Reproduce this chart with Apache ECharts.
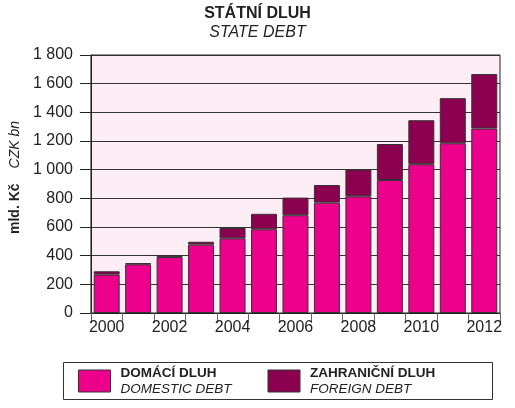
<!DOCTYPE html>
<html>
<head>
<meta charset="utf-8">
<script src="https://cdn.jsdelivr.net/npm/echarts@6/dist/echarts.min.js"></script>
<style>
  html, body { margin: 0; padding: 0; background: #fff; }
  #main { width: 515px; height: 408px; }
</style>
</head>
<body>
<div id="main"></div>
<script>
// data (mld. Kč)
var years = ["2000", "2001", "2002", "2003", "2004", "2005", "2006", "2007", "2008", "2009", "2010", "2011", "2012"];
var domestic = [268, 340, 390, 477, 521, 584, 682, 770, 814, 928, 1038, 1184, 1287];
var foreign = [23, 8, 13, 20, 72, 108, 123, 123, 187, 251, 307, 315, 380];
var seriesNames = ["DOMÁCÍ DLUH", "ZAHRANIČNÍ DLUH"];
var seriesSub = ["DOMESTIC DEBT", "FOREIGN DEBT"];

var FONT = "Liberation Sans";
var chart = echarts.init(document.getElementById("main"));

var option = {
  animation: false,
  textStyle: { fontFamily: FONT, color: "#222" },
  title: {
    text: "STÁTNÍ DLUH",
    subtext: "STATE DEBT",
    left: "center",
    top: 6,
    itemGap: 3,
    padding: 0,
    textStyle: { fontFamily: FONT, fontSize: 16, fontWeight: "bold", color: "#222" },
    subtextStyle: { fontFamily: FONT, fontSize: 16, fontStyle: "italic", color: "#222" }
  },
  grid: {
    left: 89,
    right: 15,
    top: 55,
    bottom: 95,
    show: true,
    backgroundColor: "#fdeef5",
    borderColor: "#222",
    borderWidth: 1
  },
  legend: {
    left: 78,
    top: 366,
    icon: "rect",
    itemWidth: 32,
    itemHeight: 22,
    itemGap: 17,
    padding: 0,
    data: seriesNames,
    itemStyle: { borderColor: "#333", borderWidth: 1 },
    formatter: function (name) {
      var i = seriesNames.indexOf(name);
      return "{b|" + name + "}\n{i|" + seriesSub[i] + "}";
    },
    textStyle: {
      rich: {
        b: { fontFamily: FONT, fontSize: 13.5, fontWeight: "bold", color: "#222", lineHeight: 16, width: 130, padding: [0, 0, 0, 5] },
        i: { fontFamily: FONT, fontSize: 13.5, fontStyle: "italic", color: "#222", lineHeight: 16, width: 130, padding: [0, 0, 0, 5] }
      }
    }
  },
  graphic: [{
    type: "rect",
    shape: { x: 63.5, y: 362.5, width: 429, height: 37 },
    style: { fill: "none", stroke: "#333", lineWidth: 1 },
    silent: true
  }],
  xAxis: {
    type: "category",
    data: years,
    axisLine: { lineStyle: { color: "#222", width: 1 } },
    axisTick: { show: true, interval: 0, alignWithLabel: false, length: 10, lineStyle: { color: "#666" } },
    axisLabel: { interval: 1, margin: 7, fontFamily: FONT, fontSize: 16, color: "#222" }
  },
  yAxis: {
    type: "value",
    min: 0,
    max: 1800,
    interval: 200,
    name: "{b|mld. Kč}{g|}{i|CZK bn}",
    nameLocation: "middle",
    nameRotate: 90,
    nameGap: 67,
    nameTextStyle: {
      rich: {
        b: { fontFamily: FONT, fontSize: 14, fontWeight: "bold", color: "#222", padding: [0, 0, 0, 13] },
        g: { width: 15 },
        i: { fontFamily: FONT, fontSize: 14, fontStyle: "italic", color: "#222" }
      }
    },
    axisLine: { show: true, lineStyle: { color: "#222", width: 1 } },
    axisTick: { show: true, length: 11, lineStyle: { color: "#222" } },
    axisLabel: {
      margin: 18,
      fontFamily: FONT,
      fontSize: 16,
      color: "#222",
      formatter: function (v) {
        return v >= 1000 ? Math.floor(v / 1000) + " " + String(v % 1000).padStart(3, "0") : String(v);
      }
    },
    splitLine: { show: true, lineStyle: { color: "#333", width: 1 } }
  },
  series: [
    {
      name: seriesNames[0],
      type: "bar",
      stack: "debt",
      barWidth: 26,
      data: domestic,
      itemStyle: { color: "#ec008c", borderColor: "#333", borderWidth: 1 }
    },
    {
      name: seriesNames[1],
      type: "bar",
      stack: "debt",
      barWidth: 26,
      data: foreign,
      itemStyle: { color: "#8b004f", borderColor: "#333", borderWidth: 1 }
    }
  ]
};

chart.setOption(option);
</script>
</body>
</html>
